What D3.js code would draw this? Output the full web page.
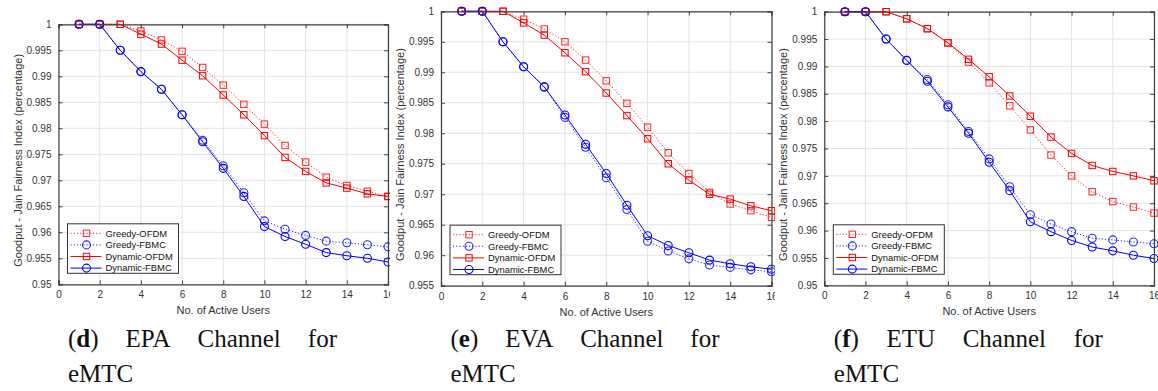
<!DOCTYPE html>
<html>
<head>
<meta charset="utf-8">
<script src="https://cdn.jsdelivr.net/npm/d3@7"></script>
<style>
  body { margin: 0; background: #fff; }
  svg { display: block; }
</style>
</head>
<body>
<div id="chart"></div>
<script>
// x values (number of active users) and ticks
var users = [1, 2, 3, 4, 5, 6, 7, 8, 9, 10, 11, 12, 13, 14, 15, 16];
var xTicks = [0, 2, 4, 6, 8, 10, 12, 14, 16];

var seriesNames = ["Greedy-OFDM", "Greedy-FBMC", "Dynamic-OFDM", "Dynamic-FBMC"];

// EPA channel
var epaGreedyOfdm = [1, 1, 1, 0.9987, 0.9970, 0.9948, 0.9917, 0.9883, 0.9846, 0.9808, 0.9767, 0.9735, 0.9706, 0.9690, 0.9679, 0.9669];
var epaGreedyFbmc = [1, 1, 0.995, 0.9909, 0.9875, 0.9826, 0.9777, 0.9728, 0.9676, 0.9622, 0.9606, 0.9594, 0.9583, 0.9580, 0.9576, 0.9572];
var epaDynOfdm = [1, 1, 1, 0.9981, 0.9962, 0.9931, 0.9901, 0.9864, 0.9826, 0.9786, 0.9744, 0.9717, 0.9695, 0.9685, 0.9674, 0.9669];
var epaDynFbmc = [1, 1, 0.995, 0.9909, 0.9875, 0.9826, 0.9774, 0.9723, 0.9669, 0.9611, 0.9592, 0.9577, 0.9561, 0.9555, 0.9550, 0.9543];
var epaYTicks = [0.95, 0.955, 0.96, 0.965, 0.97, 0.975, 0.98, 0.985, 0.99, 0.995, 1];

// EVA channel
var evaGreedyOfdm = [1, 1, 1, 0.9987, 0.9971, 0.9950, 0.9920, 0.9886, 0.9849, 0.9810, 0.9768, 0.9734, 0.9703, 0.9684, 0.9673, 0.9662];
var evaGreedyFbmc = [1, 1, 0.995, 0.9909, 0.9876, 0.9826, 0.9777, 0.9727, 0.9675, 0.9623, 0.9607, 0.9594, 0.9584, 0.9580, 0.9576, 0.9573];
var evaDynOfdm = [1, 1, 1, 0.9981, 0.9961, 0.9932, 0.9901, 0.9866, 0.9829, 0.9791, 0.9750, 0.9723, 0.9700, 0.9692, 0.9681, 0.9673];
var evaDynFbmc = [1, 1, 0.995, 0.9909, 0.9876, 0.9830, 0.9782, 0.9734, 0.9682, 0.9632, 0.9616, 0.9604, 0.9592, 0.9586, 0.9581, 0.9577];
var evaYTicks = [0.955, 0.96, 0.965, 0.97, 0.975, 0.98, 0.985, 0.99, 0.995, 1];

// ETU channel
var etuGreedyOfdm = [1, 1, 1, 0.9987, 0.9969, 0.9943, 0.9908, 0.9870, 0.9828, 0.9784, 0.9738, 0.9700, 0.9671, 0.9653, 0.9643, 0.9632];
var etuGreedyFbmc = [1, 1, 0.995, 0.9911, 0.9876, 0.9830, 0.9781, 0.9731, 0.9680, 0.9629, 0.9612, 0.9598, 0.9586, 0.9583, 0.9579, 0.9576];
var etuDynOfdm = [1, 1, 1, 0.9987, 0.9969, 0.9943, 0.9913, 0.9881, 0.9846, 0.9809, 0.9771, 0.9741, 0.9719, 0.9708, 0.9700, 0.9691];
var etuDynFbmc = [1, 1, 0.995, 0.9911, 0.9873, 0.9826, 0.9778, 0.9725, 0.9673, 0.9616, 0.9598, 0.9582, 0.9570, 0.9563, 0.9555, 0.9549];
var etuYTicks = [0.95, 0.955, 0.96, 0.965, 0.97, 0.975, 0.98, 0.985, 0.99, 0.995, 1];

var captionLetters = ["d", "e", "f"];
var captionChannels = ["EPA", "EVA", "ETU"];

var xLabel = "No. of Active Users";
var yLabel = "Goodput - Jain Fairness Index (percentage)";

// styles per series (same order as seriesNames)
var styles = [
    { color: "#ff0000", dash: "1.2,2", marker: "square", op: 0.85 },
    { color: "#0000ff", dash: "1.2,2", marker: "circle", op: 0.85 },
    { color: "#ff0000", dash: null, marker: "square", op: 1 },
    { color: "#0000ff", dash: null, marker: "circle", op: 1 }
];

// panel layout
var panels = [
    { left: 58.5, right: 388, top: 24.3, bottom: 284.3, clip: [0, 390],
      series: [epaGreedyOfdm, epaGreedyFbmc, epaDynOfdm, epaDynFbmc], yTicks: epaYTicks },
    { left: 441, right: 771.5, top: 11.3, bottom: 285.7, clip: [390, 775],
      series: [evaGreedyOfdm, evaGreedyFbmc, evaDynOfdm, evaDynFbmc], yTicks: evaYTicks },
    { left: 824.3, right: 1154, top: 11.7, bottom: 285.3, clip: [775, 1158],
      series: [etuGreedyOfdm, etuGreedyFbmc, etuDynOfdm, etuDynFbmc], yTicks: etuYTicks }
];

var svgWidth = 1158, svgHeight = 391;
var axisColor = "#404040";
var textColor = "#333";

var svg = d3.select("#chart").append("svg")
    .attr("width", svgWidth).attr("height", svgHeight);

var fmt = function(v) { return String(+v.toFixed(3)); };

function drawMarker(g, type, x, y, color, op) {
    if (type === "square") {
        g.append("rect")
            .attr("x", x - 3.2).attr("y", y - 3.2)
            .attr("width", 6.4).attr("height", 6.4)
            .attr("fill", "none").attr("stroke", color)
            .attr("stroke-width", 1).attr("opacity", op);
    } else {
        g.append("circle")
            .attr("cx", x).attr("cy", y).attr("r", 4)
            .attr("fill", "none").attr("stroke", color)
            .attr("stroke-width", 1.1).attr("opacity", op);
    }
}

panels.forEach(function(p, pi) {
    var clipId = "clip" + pi;
    svg.append("clipPath").attr("id", clipId)
        .append("rect")
        .attr("x", p.clip[0]).attr("y", 0)
        .attr("width", p.clip[1] - p.clip[0]).attr("height", svgHeight);

    var g = svg.append("g").attr("clip-path", "url(#" + clipId + ")");

    var yMin = d3.min(p.yTicks), yMax = d3.max(p.yTicks);

    var x = d3.scaleLinear().domain([0, 16]).range([p.left, p.right]);
    var y = d3.scaleLinear().domain([yMin, yMax]).range([p.bottom, p.top]);

    // grid
    g.append("g").selectAll("line").data(xTicks).enter().append("line")
        .attr("x1", d => x(d)).attr("x2", d => x(d))
        .attr("y1", p.top).attr("y2", p.bottom)
        .attr("stroke", "#e3e3e3").attr("stroke-width", 1);
    g.append("g").selectAll("line").data(p.yTicks).enter().append("line")
        .attr("x1", p.left).attr("x2", p.right)
        .attr("y1", d => y(d)).attr("y2", d => y(d))
        .attr("stroke", "#e3e3e3").attr("stroke-width", 1);

    // series lines + markers
    var line = d3.line().x((d, i) => x(users[i])).y(d => y(d));
    p.series.forEach(function(vals, si) {
        var s = styles[si];
        g.append("path")
            .datum(vals)
            .attr("d", line)
            .attr("fill", "none")
            .attr("stroke", s.color)
            .attr("stroke-width", 1)
            .attr("opacity", s.op)
            .attr("stroke-dasharray", s.dash);
        var mg = g.append("g");
        vals.forEach(function(v, i) {
            drawMarker(mg, s.marker, x(users[i]), y(v), s.color, s.op);
        });
    });

    // axes (ticks inward on all four sides)
    var bottomAxis = d3.axisBottom(x).tickValues(xTicks).tickSize(-4).tickPadding(7).tickFormat(d3.format("d"));
    var topAxis = d3.axisTop(x).tickValues(xTicks).tickSize(-4).tickFormat("");
    var leftAxis = d3.axisLeft(y).tickValues(p.yTicks).tickSize(-4).tickPadding(7).tickFormat(fmt);
    var rightAxis = d3.axisRight(y).tickValues(p.yTicks).tickSize(-4).tickFormat("");

    var axes = [
        g.append("g").attr("transform", "translate(0," + p.bottom + ")").call(bottomAxis),
        g.append("g").attr("transform", "translate(0," + p.top + ")").call(topAxis),
        g.append("g").attr("transform", "translate(" + p.left + ",0)").call(leftAxis),
        g.append("g").attr("transform", "translate(" + p.right + ",0)").call(rightAxis)
    ];
    axes.forEach(function(a) {
        a.select(".domain").attr("stroke", axisColor).attr("stroke-width", 1.2);
        a.selectAll(".tick line").attr("stroke", axisColor).attr("stroke-width", 1);
        a.selectAll(".tick text")
            .attr("fill", textColor)
            .style("font-family", "'Liberation Sans', Arial, sans-serif")
            .style("font-size", "10px");
    });

    // axis labels
    g.append("text")
        .attr("x", (p.left + p.right) / 2)
        .attr("y", p.bottom + 30)
        .attr("text-anchor", "middle")
        .attr("fill", textColor)
        .style("font-family", "'Liberation Sans', Arial, sans-serif")
        .style("font-size", "11px")
        .text(xLabel);

    g.append("text")
        .attr("transform", "translate(" + (p.left - 37) + "," + ((p.top + p.bottom) / 2 + 6) + ") rotate(-90)")
        .attr("text-anchor", "middle")
        .attr("fill", textColor)
        .style("font-family", "'Liberation Sans', Arial, sans-serif")
        .style("font-size", "11px")
        .text(yLabel);

    // legend
    var lx = p.left + 9, ly = p.bottom - 60.5;
    var lg = g.append("g");
    lg.append("rect")
        .attr("x", lx).attr("y", ly)
        .attr("width", 111).attr("height", 49.5)
        .attr("fill", "#fff").attr("stroke", "#333").attr("stroke-width", 1);
    seriesNames.forEach(function(name, si) {
        var s = styles[si];
        var ry = ly + 9.5 + si * 11.6;
        lg.append("line")
            .attr("x1", lx + 3).attr("x2", lx + 34)
            .attr("y1", ry).attr("y2", ry)
            .attr("stroke", s.color).attr("stroke-width", 1)
            .attr("opacity", s.op)
            .attr("stroke-dasharray", s.dash);
        drawMarker(lg, s.marker, lx + 19, ry, s.color, s.op);
        lg.append("text")
            .attr("x", lx + 38).attr("y", ry + 3.3)
            .attr("fill", "#111")
            .style("font-family", "'Liberation Sans', Arial, sans-serif")
            .style("font-size", "9.4px")
            .text(name);
    });

    // caption, justified first line
    var cx0 = p.left + 9.5, cx1 = cx0 + 269;
    var cap = g.append("g")
        .style("font-family", "'Liberation Serif', 'Times New Roman', serif")
        .style("font-size", "25px")
        .attr("fill", "#111");
    var words = ["(" + captionLetters[pi] + ")", captionChannels[pi], "Channel", "for"];
    var nodes = words.map(function(wd, wi) {
        var t = cap.append("text").attr("y", 346.5);
        if (wi === 0) {
            t.append("tspan").text("(");
            t.append("tspan").attr("font-weight", "bold").text(captionLetters[pi]);
            t.append("tspan").text(")");
        } else {
            t.text(wd);
        }
        return t;
    });
    var widths = nodes.map(n => n.node().getComputedTextLength());
    var gap = (cx1 - cx0 - d3.sum(widths)) / (words.length - 1);
    var cur = cx0;
    nodes.forEach(function(n, i) {
        n.attr("x", cur);
        cur += widths[i] + gap;
    });
    cap.append("text").attr("x", cx0).attr("y", 381.5).text("eMTC");
});
</script>
</body>
</html>
